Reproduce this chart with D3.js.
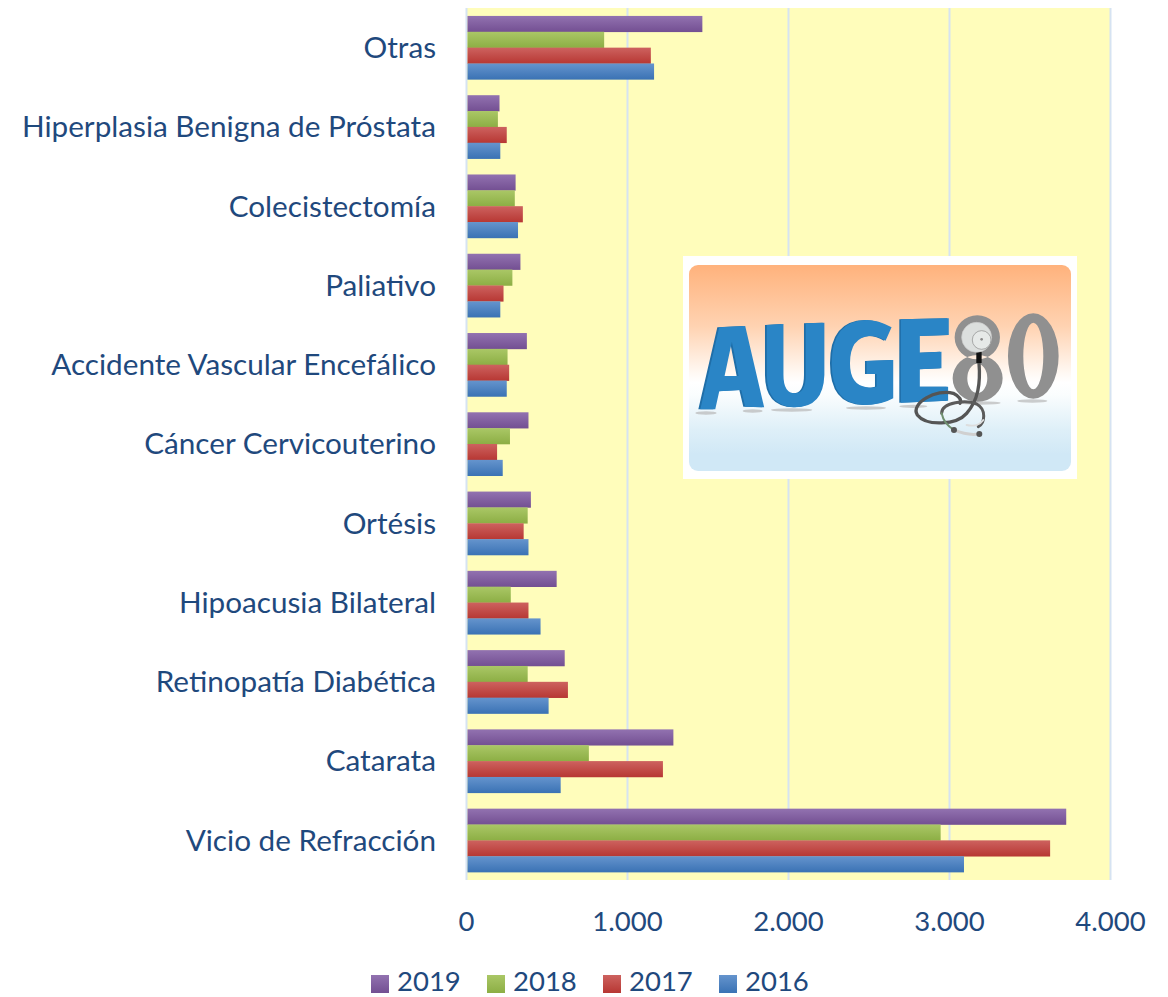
<!DOCTYPE html>
<html><head><meta charset="utf-8">
<script src="https://cdn.jsdelivr.net/npm/d3@7"></script>
<style>html,body{margin:0;padding:0;background:#fff}svg{display:block}text{font-family:Lato,"Open Sans",sans-serif;fill:#1f497d}</style>
</head><body><svg id="c" width="1168" height="997"></svg>
<script>
const categories=["Otras","Hiperplasia Benigna de Próstata","Colecistectomía","Paliativo","Accidente Vascular Encefálico","Cáncer Cervicouterino","Ortésis","Hipoacusia Bilateral","Retinopatía Diabética","Catarata","Vicio de Refracción"];
const years=["2019","2018","2017","2016"];
const v2019=[1465,205,305,335,375,385,400,560,610,1285,3725];
const v2018=[855,195,300,285,255,270,380,275,380,760,2945];
const v2017=[1145,250,350,230,265,190,355,385,630,1220,3625];
const v2016=[1165,210,320,210,250,225,385,460,510,585,3090];
const seriesValues=[v2019,v2018,v2017,v2016];
const colorTop=["#9272b0","#aac766","#cd625f","#6594cd"];
const colorBottom=["#734f92","#8cae44","#b73733","#3a72b4"];
const xTicks=[0,1000,2000,3000,4000];
const tickLabels=["0","1.000","2.000","3.000","4.000"];

const svg=d3.select("#c");
const x=d3.scaleLinear().domain([0,4000]).range([466.5,1110.5]);
const y=d3.scaleBand().domain(categories).range([8,880]).paddingInner(0.2).paddingOuter(0.1);
const yS=d3.scaleBand().domain(years).range([0,y.bandwidth()]);
const defs=svg.append("defs");
years.forEach((yr,i)=>{
  const g=defs.append("linearGradient").attr("id","g"+yr).attr("x1",0).attr("x2",0).attr("y1",0).attr("y2",1);
  g.append("stop").attr("offset",0).attr("stop-color",colorTop[i]);
  g.append("stop").attr("offset",1).attr("stop-color",colorBottom[i]);
});
svg.append("rect").attr("x",x(0)).attr("y",8).attr("width",x(4000)-x(0)).attr("height",872).attr("fill","#fffdbb");
svg.append("g").selectAll("line").data(xTicks).join("line")
  .attr("x1",d=>x(d)).attr("x2",d=>x(d)).attr("y1",8).attr("y2",880)
  .attr("stroke","#d6e3f2").attr("stroke-width",2);
years.forEach((yr,i)=>{
  svg.append("g").selectAll("rect").data(seriesValues[i]).join("rect")
    .attr("x",x(0)+1).attr("y",(d,j)=>y(categories[j])+yS(yr))
    .attr("width",d=>x(d)-x(0)-1).attr("height",yS.bandwidth()+0.3)
    .attr("fill",`url(#g${yr})`);
});
svg.append("g").selectAll("text").data(categories).join("text")
  .attr("x",436).attr("y",d=>y(d)+y.bandwidth()/2).attr("dy","0.35em").attr("text-anchor","end")
  .attr("font-size",29.7).text(d=>d);
svg.append("g").selectAll("text").data(xTicks).join("text")
  .attr("x",d=>x(d)).attr("y",931).attr("text-anchor","middle").attr("font-size",27.5)
  .text((d,i)=>tickLabels[i]);
const legendX=[371,487,603,719];
years.forEach((yr,i)=>{
  svg.append("rect").attr("x",legendX[i]).attr("y",975).attr("width",18).attr("height",18).attr("fill",`url(#g${yr})`);
  svg.append("text").attr("x",legendX[i]+26).attr("y",991).attr("font-size",27.5).text(yr);
});

// Logo picture (decoration, drawn in the 3x crop's coordinates)
const logoBase=svg.append("g");
logoBase.append("rect").attr("x",683).attr("y",256).attr("width",394).attr("height",223).attr("fill","#fff");
const lg=defs.append("linearGradient").attr("id","logoBg").attr("x1",0).attr("x2",0).attr("y1",0).attr("y2",1);
[[0,"#ffb27c"],[0.3,"#ffd3b2"],[0.52,"#fff8f2"],[0.57,"#ffffff"],[0.63,"#fafdfe"],[0.8,"#deeff8"],[0.92,"#d0e8f6"],[1,"#d0e8f6"]].forEach(s=>lg.append("stop").attr("offset",s[0]).attr("stop-color",s[1]));
logoBase.append("rect").attr("x",689).attr("y",265).attr("width",382).attr("height",206).attr("rx",9).attr("fill","url(#logoBg)");
const logo=svg.append("g").attr("transform","translate(680,250) scale(0.3333)");
[[78,489,32],[218,483,30],[335,480,62],[558,474,60],[700,469,42],[900,459,62],[1057,453,45]].forEach(s=>{
  logo.append("ellipse").attr("cx",s[0]).attr("cy",s[1]).attr("rx",s[2]).attr("ry",5).attr("fill","#b8b8b8").attr("opacity",.7);
});
const pA="M55 478L112 232L190 228L247 472L190 470L178 420L112 424L100 478ZM128 378L170 378L150 275Z";
const pU="M255 225L305 222L305 375Q305 430 340 430Q372 430 372 375L372 220L428 218L428 375Q425 472 340 472Q255 470 255 375Z";
const pG="M630 232Q590 210 555 210Q450 212 450 340Q450 465 550 465Q600 465 635 445L635 330L555 333L555 372L585 372L585 410Q570 415 555 412Q505 405 505 340Q505 262 565 258Q590 258 612 272Z";
const pE="M658 208L802 205L802 255L715 258L715 308L780 305L780 355L715 358L715 410L800 410L800 452L658 458Z";
[pA,pU,pG,pE].forEach(p=>{
  logo.append("path").attr("d",p).attr("fill","#1f6ea8");
  logo.append("path").attr("d",p).attr("fill","#2a85c6").attr("transform","translate(6,0) scale(0.998,1)");
});
const grey="#909090";
logo.append("path").attr("fill",grey).attr("fill-rule","evenodd")
 .attr("d","M824 262A68 66 0 1 1 960 262A68 66 0 1 1 824 262ZM818 385A75 70 0 1 1 968 385A75 70 0 1 1 818 385ZM862 385A30 44 0 1 0 922 385A30 44 0 1 0 862 385Z");
logo.append("path").attr("fill",grey).attr("fill-rule","evenodd")
 .attr("d","M984 318A76 128 0 1 1 1136 318A76 128 0 1 1 984 318ZM1030 318A30 100 0 1 0 1090 318A30 100 0 1 0 1030 318Z");
const tube=(d,c,w)=>logo.append("path").attr("d",d).attr("fill","none").attr("stroke",c).attr("stroke-width",w).attr("stroke-linecap","round");
tube("M897 338C902 400 895 450 860 490C830 525 740 530 712 495C690 460 770 415 820 430C840 440 845 450 840 460","#555",10);
tube("M785 490C785 455 860 450 890 462C920 478 915 520 895 530","#5b5b5b",9);
tube("M785 490C790 515 805 530 822 540","#6f8f70",6);
tube("M822 540C850 552 880 555 898 552","#d0d0d0",9);
tube("M860 525C880 530 900 525 910 510","#ddd",6);
logo.append("circle").attr("cx",822).attr("cy",540).attr("r",9).attr("fill","#555");
logo.append("circle").attr("cx",898).attr("cy",552).attr("r",9).attr("fill","#555");
logo.append("rect").attr("x",889).attr("y",305).attr("width",16).attr("height",34).attr("fill","#111");
logo.append("circle").attr("cx",890).attr("cy",262).attr("r",45).attr("fill","#dcdfde").attr("stroke","#c9c9c9").attr("stroke-width",2);
logo.append("circle").attr("cx",905).attr("cy",270).attr("r",28).attr("fill","#e6e9e8").attr("stroke","#8a8a8a").attr("stroke-width",2);
logo.append("circle").attr("cx",905).attr("cy",268).attr("r",4).attr("fill","#8a8a8a");
</script></body></html>
